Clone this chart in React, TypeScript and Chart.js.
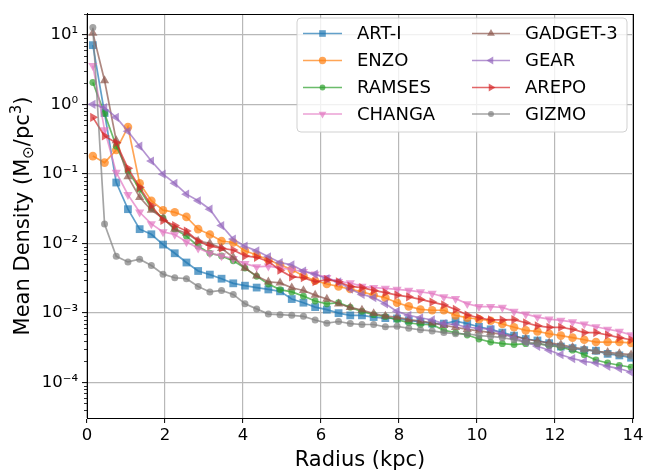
import React, { useEffect, useRef } from 'react';
import { Chart, registerables } from 'chart.js';

Chart.register(...registerables);

const radius = [0.15, 0.45, 0.75, 1.05, 1.35, 1.65, 1.95, 2.25, 2.55, 2.85, 3.15, 3.45, 3.75, 4.05, 4.35, 4.65, 4.95, 5.25, 5.55, 5.85, 6.15, 6.45, 6.75, 7.05, 7.35, 7.65, 7.95, 8.25, 8.55, 8.85, 9.15, 9.45, 9.75, 10.05, 10.35, 10.65, 10.95, 11.25, 11.55, 11.85, 12.15, 12.45, 12.75, 13.05, 13.35, 13.65, 13.95];

const artI = [7.1, 0.75, 0.075, 0.031, 0.016, 0.0135, 0.0096, 0.0072, 0.0053, 0.004, 0.00355, 0.0031, 0.00266, 0.00246, 0.00231, 0.00217, 0.00204, 0.00158, 0.0014, 0.00121, 0.00111, 0.00099, 0.00092, 0.00092, 0.00087, 0.00084, 0.00083, 0.00078, 0.00074, 0.0007, 0.0007, 0.00076, 0.0007, 0.00063, 0.00058, 0.00052, 0.00047, 0.00042, 0.0004, 0.000366, 0.000327, 0.00031, 0.00029, 0.000285, 0.000257, 0.000244, 0.000226];
const enzo = [0.18, 0.145, 0.22, 0.47, 0.073, 0.041, 0.03, 0.028, 0.024, 0.016, 0.0134, 0.0108, 0.0103, 0.0078, 0.0068, 0.0058, 0.0049, 0.0042, 0.0034, 0.0029, 0.0026, 0.0024, 0.0022, 0.002, 0.0018, 0.00165, 0.0014, 0.00124, 0.00112, 0.00109, 0.00109, 0.00092, 0.00085, 0.00081, 0.00077, 0.00069, 0.00062, 0.00056, 0.00054, 0.0005, 0.00047, 0.00044, 0.00041, 0.00038, 0.00038, 0.00038, 0.00037];
const ramses = [2.06, 0.74, 0.25, 0.11, 0.06, 0.032, 0.023, 0.016, 0.0127, 0.0091, 0.0072, 0.0066, 0.0056, 0.0044, 0.00335, 0.0026, 0.00216, 0.002, 0.00174, 0.00148, 0.00135, 0.0014, 0.0012, 0.00105, 0.00094, 0.00088, 0.0008, 0.00072, 0.00068, 0.00068, 0.00056, 0.00052, 0.00048, 0.00042, 0.00038, 0.00036, 0.00035, 0.00036, 0.00036, 0.00034, 0.00032, 0.00029, 0.00025, 0.00021, 0.00019, 0.000176, 0.000165];
const changa = [3.6, 0.43, 0.105, 0.05, 0.028, 0.019, 0.0146, 0.0134, 0.0105, 0.0085, 0.0072, 0.0066, 0.006, 0.0051, 0.0046, 0.0047, 0.0044, 0.0042, 0.0039, 0.0036, 0.0032, 0.0028, 0.0027, 0.0024, 0.0023, 0.00225, 0.00217, 0.0021, 0.002, 0.0019, 0.0017, 0.0016, 0.00135, 0.00123, 0.00123, 0.0012, 0.00105, 0.00096, 0.00087, 0.00081, 0.00078, 0.00074, 0.00069, 0.00063, 0.00058, 0.00054, 0.00048];
const gadget3 = [10.6, 2.2, 0.3, 0.091, 0.046, 0.03, 0.023, 0.016, 0.014, 0.0108, 0.01, 0.0085, 0.0063, 0.0044, 0.0034, 0.0028, 0.0027, 0.0023, 0.0021, 0.0018, 0.00158, 0.00135, 0.0012, 0.0011, 0.00098, 0.0009, 0.00087, 0.0008, 0.00076, 0.00072, 0.00066, 0.00062, 0.00058, 0.00055, 0.00052, 0.00049, 0.00046, 0.00042, 0.00039, 0.00037, 0.00035, 0.00032, 0.0003, 0.00028, 0.00027, 0.00026, 0.00025];
const gear = [1.0, 0.9, 0.65, 0.41, 0.25, 0.153, 0.099, 0.073, 0.051, 0.041, 0.031, 0.018, 0.0115, 0.0091, 0.0078, 0.0064, 0.0053, 0.0049, 0.004, 0.0036, 0.0031, 0.0028, 0.0022, 0.00184, 0.00166, 0.00135, 0.00105, 0.00092, 0.00085, 0.00079, 0.0007, 0.00068, 0.00062, 0.0006, 0.00058, 0.0005, 0.00044, 0.00038, 0.00033, 0.00029, 0.00025, 0.00022, 0.0002, 0.00019, 0.00017, 0.000158, 0.00014];
const arepo = [0.65, 0.35, 0.28, 0.12, 0.064, 0.035, 0.0214, 0.018, 0.015, 0.0108, 0.0091, 0.0085, 0.008, 0.0066, 0.0063, 0.0055, 0.0041, 0.0033, 0.0032, 0.0028, 0.003, 0.0028, 0.0024, 0.0023, 0.0021, 0.00195, 0.0018, 0.0017, 0.00156, 0.00143, 0.0013, 0.00112, 0.00093, 0.00085, 0.00079, 0.00079, 0.0008, 0.00072, 0.00065, 0.00062, 0.00062, 0.00058, 0.00052, 0.00052, 0.00048, 0.00044, 0.00041];
const gizmo = [12.7, 0.019, 0.0065, 0.0054, 0.0059, 0.0048, 0.0036, 0.0032, 0.0031, 0.0024, 0.002, 0.0021, 0.00184, 0.00135, 0.00114, 0.00096, 0.00094, 0.00092, 0.00089, 0.00079, 0.00071, 0.00075, 0.0007, 0.00068, 0.00068, 0.00063, 0.00064, 0.0006, 0.00057, 0.00055, 0.00052, 0.0005, 0.0005, 0.00047, 0.00046, 0.00044, 0.00041, 0.00038, 0.00036, 0.00034, 0.00033, 0.00031, 0.0003, 0.00028, 0.00026, 0.00025, 0.00024];

const seriesNames = ['ART-I', 'ENZO', 'RAMSES', 'CHANGA', 'GADGET-3', 'GEAR', 'AREPO', 'GIZMO'];
const seriesValues = [artI, enzo, ramses, changa, gadget3, gear, arepo, gizmo];
const seriesRGB = ['31,119,180', '255,127,14', '44,160,44', '227,119,194', '140,86,75', '148,103,189', '214,39,40', '127,127,127'];
const seriesMarker = ['rect', 'circle', 'circle', 'triangle', 'triangle', 'triangle', 'triangle', 'circle'];
const seriesRotation = [0, 0, 0, 180, 0, 270, 90, 0];
const seriesMarkerSize = [5.5, 4.3, 3.4, 5.3, 5.3, 5.3, 5.3, 3.5];

const yMajorTicks = [1e-4, 1e-3, 1e-2, 1e-1, 1, 10];
const xTickStep = 2;

const FONT = "'DejaVu Sans', sans-serif";
const ALPHA = 0.7;

const supMap: Record<string, string> = { '-': '\u207B', '0': '\u2070', '1': '\u00B9', '2': '\u00B2', '3': '\u00B3', '4': '\u2074', '5': '\u2075', '6': '\u2076', '7': '\u2077', '8': '\u2078', '9': '\u2079' };
function powLabel(v: number): string {
  const e = Math.round(Math.log10(v));
  return '10' + String(e).split('').map((c) => supMap[c] || c).join('');
}

function rgba(rgb: string, a: number) {
  return `rgba(${rgb},${a})`;
}

function drawMarker(ctx: CanvasRenderingContext2D, style: string, x: number, y: number, r: number, rot: number) {
  ctx.beginPath();
  if (style === 'circle') {
    ctx.arc(x, y, r, 0, Math.PI * 2);
  } else if (style === 'rect') {
    const s = r * Math.SQRT1_2;
    ctx.rect(x - s, y - s, 2 * s, 2 * s);
  } else {
    let a = (rot * Math.PI) / 180;
    ctx.moveTo(x + Math.sin(a) * r, y - Math.cos(a) * r);
    a += (2 * Math.PI) / 3;
    ctx.lineTo(x + Math.sin(a) * r, y - Math.cos(a) * r);
    a += (2 * Math.PI) / 3;
    ctx.lineTo(x + Math.sin(a) * r, y - Math.cos(a) * r);
    ctx.closePath();
  }
  ctx.fill();
}

const framePlugin = {
  id: 'frame',
  afterDatasetsDraw(chart: any) {
    const { ctx, chartArea } = chart;
    ctx.save();
    ctx.strokeStyle = '#000';
    ctx.lineWidth = 1;
    ctx.strokeRect(Math.round(chartArea.left) + 0.5, Math.round(chartArea.top) + 0.5, Math.round(chartArea.right - chartArea.left), Math.round(chartArea.bottom - chartArea.top));
    ctx.restore();
  },
};

const minorTicksPlugin = {
  id: 'minorTicks',
  afterDraw(chart: any) {
    const { ctx, chartArea } = chart;
    const ys = chart.scales.y;
    ctx.save();
    ctx.strokeStyle = '#000';
    ctx.lineWidth = 0.8;
    for (let d = -5; d <= 1; d++) {
      for (let m = 2; m <= 9; m++) {
        const v = m * Math.pow(10, d);
        if (v < ys.min || v > ys.max) continue;
        const py = Math.round(ys.getPixelForValue(v)) + 0.5;
        ctx.beginPath();
        ctx.moveTo(chartArea.left, py);
        ctx.lineTo(chartArea.left - 3, py);
        ctx.stroke();
      }
    }
    ctx.restore();
  },
};

const legendPlugin = {
  id: 'customLegend',
  afterDraw(chart: any) {
    const { ctx } = chart;
    const bx = 297, by = 18, bw = 330, bh = 114;
    ctx.save();
    ctx.beginPath();
    const rr = 4;
    ctx.moveTo(bx + rr, by);
    ctx.arcTo(bx + bw, by, bx + bw, by + bh, rr);
    ctx.arcTo(bx + bw, by + bh, bx, by + bh, rr);
    ctx.arcTo(bx, by + bh, bx, by, rr);
    ctx.arcTo(bx, by, bx + bw, by, rr);
    ctx.closePath();
    ctx.fillStyle = 'rgba(255,255,255,0.8)';
    ctx.fill();
    ctx.strokeStyle = 'rgba(204,204,204,0.9)';
    ctx.lineWidth = 1;
    ctx.stroke();
    const rows = [33.5, 60.5, 87.5, 114];
    const cols = [{ l0: 303, l1: 342, tx: 357 }, { l0: 472, l1: 510, tx: 525 }];
    ctx.font = `18px ${FONT}`;
    ctx.textBaseline = 'middle';
    ctx.textAlign = 'left';
    seriesNames.forEach((name, i) => {
      const c = cols[Math.floor(i / 4)];
      const y = rows[i % 4];
      const col = rgba(seriesRGB[i], ALPHA);
      ctx.strokeStyle = col;
      ctx.lineWidth = 1.7;
      ctx.beginPath();
      ctx.moveTo(c.l0, y);
      ctx.lineTo(c.l1, y);
      ctx.stroke();
      ctx.fillStyle = col;
      drawMarker(ctx, seriesMarker[i], (c.l0 + c.l1) / 2, y, seriesMarkerSize[i] * 0.85, seriesRotation[i]);
      ctx.fillStyle = '#000';
      ctx.fillText(name, c.tx, y + 1);
    });
    ctx.restore();
  },
};

const titlesPlugin = {
  id: 'axisTitles',
  afterDraw(chart: any) {
    const { ctx, chartArea } = chart;
    ctx.save();
    ctx.fillStyle = '#000';
    ctx.textBaseline = 'alphabetic';
    ctx.textAlign = 'left';
    ctx.font = `21px ${FONT}`;
    const xt = 'Radius (kpc)';
    const xw = ctx.measureText(xt).width;
    ctx.fillText(xt, (chartArea.left + chartArea.right) / 2 - xw / 2, 466);
    const big = `21px ${FONT}`;
    const small = `15px ${FONT}`;
    const pieces = [
      { t: 'Mean Density (M', f: big, dy: 0 },
      { t: '\u2299', f: small, dy: 4 },
      { t: '/pc', f: big, dy: 0 },
      { t: '3', f: small, dy: -8 },
      { t: ')', f: big, dy: 0 },
    ];
    let total = 0;
    const widths = pieces.map((p) => {
      ctx.font = p.f;
      const w = ctx.measureText(p.t).width;
      total += w;
      return w;
    });
    ctx.translate(29, (chartArea.top + chartArea.bottom) / 2);
    ctx.rotate(-Math.PI / 2);
    let x = -total / 2;
    pieces.forEach((p, i) => {
      ctx.font = p.f;
      ctx.fillText(p.t, x, p.dy);
      x += widths[i];
    });
    ctx.restore();
  },
};

export default function App() {
  const ref = useRef<HTMLCanvasElement>(null);
  useEffect(() => {
    document.body.style.margin = '0';
    const canvas = ref.current!;
    const n = seriesNames.length;
    const chart = new Chart(canvas, {
      type: 'line',
      data: {
        datasets: seriesNames.map((name, i) => ({
          label: name,
          data: radius.map((r, j) => ({ x: r, y: seriesValues[i][j] })),
          borderColor: rgba(seriesRGB[i], ALPHA),
          backgroundColor: rgba(seriesRGB[i], ALPHA),
          pointBackgroundColor: rgba(seriesRGB[i], ALPHA),
          pointBorderColor: rgba(seriesRGB[i], ALPHA),
          pointBorderWidth: 0,
          borderWidth: 1.7,
          pointStyle: seriesMarker[i] as any,
          pointRotation: seriesRotation[i],
          pointRadius: seriesMarkerSize[i],
          tension: 0,
          fill: false,
          order: n - 1 - i,
        })),
      },
      options: {
        responsive: false,
        animation: false,
        devicePixelRatio: 1,
        layout: { padding: { left: 0, right: 14, top: 8, bottom: 0 } },
        plugins: {
          legend: { display: false },
          tooltip: { enabled: false },
          title: { display: false },
        },
        scales: {
          x: {
            type: 'linear',
            min: 0,
            max: 14,
            ticks: {
              stepSize: xTickStep,
              color: '#000',
              font: { family: FONT, size: 16.5 },
              padding: 3,
              maxRotation: 0,
              autoSkip: false,
            },
            grid: { color: '#b8b8b8', lineWidth: 1.2, tickColor: '#000', tickLength: 5, tickWidth: 1 },
            border: { color: '#000', width: 1 },
            afterFit: (s: any) => {
              s.height = 54;
            },
          },
          y: {
            type: 'logarithmic',
            min: 3.07e-5,
            max: 20,
            afterBuildTicks: (s: any) => {
              s.ticks = yMajorTicks.map((v) => ({ value: v, major: true }));
            },
            ticks: {
              color: '#000',
              font: { family: FONT, size: 16.5 },
              padding: 4,
              autoSkip: false,
              callback: (v: any) => powLabel(Number(v)),
            },
            grid: { color: '#b8b8b8', lineWidth: 1.2, tickColor: '#000', tickLength: 5, tickWidth: 1 },
            border: { color: '#000', width: 1 },
            afterFit: (s: any) => {
              s.width = 87;
            },
          },
        },
      },
      plugins: [framePlugin, minorTicksPlugin, legendPlugin, titlesPlugin],
    } as any);
    return () => chart.destroy();
  }, []);
  return <canvas ref={ref} width={647} height={472} style={{ display: 'block', width: 647, height: 472 }} />;
}
